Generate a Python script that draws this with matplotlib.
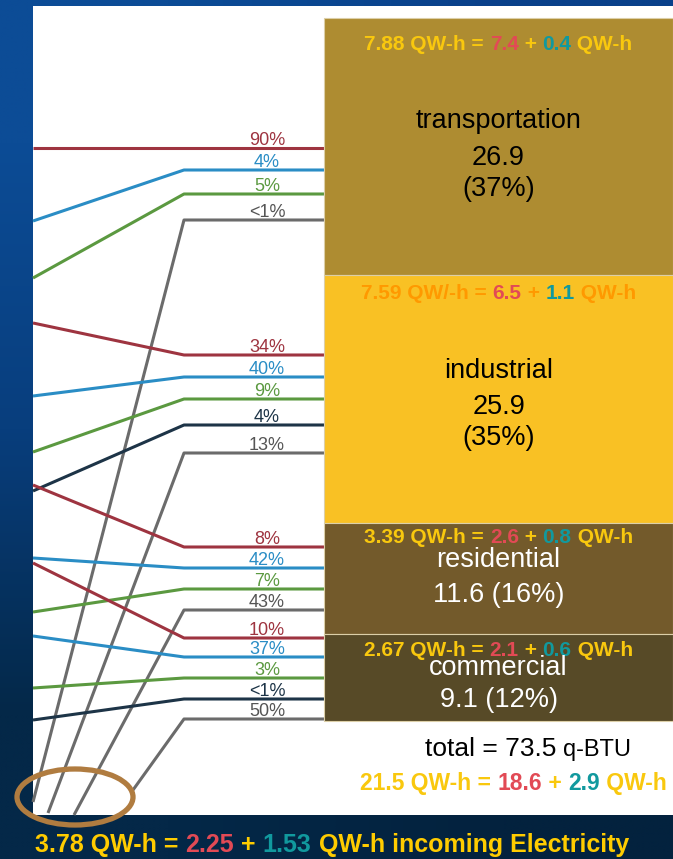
import matplotlib
matplotlib.use('Agg')
import matplotlib.pyplot as plt
from matplotlib.patches import Ellipse, Rectangle
import numpy as np

plt.rcParams['font.family'] = ['Liberation Sans', 'DejaVu Sans']

# sector totals (quads) and their shares
sectors = ['transportation', 'industrial', 'residential', 'commercial']
quads = [26.9, 25.9, 11.6, 9.1]
shares = ['37%', '35%', '16%', '12%']
total_quads = '73.5'

# electricity used by each sector: total = part a + part b (QW-h)
elec_total = ['7.88', '7.59', '3.39', '2.67']
elec_a = ['7.4', '6.5', '2.6', '2.1']
elec_b = ['0.4', '1.1', '0.8', '0.6']
elec_sum = ['21.5', '18.6', '2.9']
elec_incoming = ['3.78', '2.25', '1.53']

# fuel flows into each sector, top to bottom
fuel_kinds = [
    ['oil', 'gas', 'renew', 'elec'],
    ['oil', 'gas', 'renew', 'coal', 'elec'],
    ['oil', 'gas', 'renew', 'elec'],
    ['oil', 'gas', 'renew', 'coal', 'elec'],
]
fuel_labels = [
    ['90%', '4%', '5%', '<1%'],
    ['34%', '40%', '9%', '4%', '13%'],
    ['8%', '42%', '7%', '43%'],
    ['10%', '37%', '3%', '<1%', '50%'],
]
# y where a flow enters on the left, and y where it reaches the sector
flow_in = [
    [148, 221, 278, 802],
    [323, 396, 452, 491, 813],
    [485, 558, 612, 815],
    [563, 636, 688, 720, 790],
]
flow_out = [
    [148, 170, 194, 220],
    [355, 377, 399, 425, 453],
    [547, 568, 589, 610],
    [638, 657, 678, 699, 719],
]
# electricity flows start from the circled source at the bottom
elec_src_x = [33, 48, 74, 133]

line_colors = {'oil': '#9E3440', 'gas': '#2A8DC5', 'renew': '#5B9940',
               'coal': '#1D3447', 'elec': '#6B6B6B'}
label_colors = {'oil': '#9E3440', 'gas': '#2A8DC5', 'renew': '#5B9940',
                'coal': '#1D3447', 'elec': '#555555'}
box_colors = ['#AE8C31', '#F9C124', '#735A2B', '#574A27']
box_text = ['black', 'black', 'white', 'white']

YEL = '#F9C80E'
ORA = '#FF9900'
RED = '#E24A55'
TEAL = '#11999E'

W, H = 673, 859
fig = plt.figure(figsize=(W / 100, H / 100), dpi=100)
ax = fig.add_axes([0, 0, 1, 1])
ax.set_xlim(0, W)
ax.set_ylim(H, 0)
ax.axis('off')

# blue backdrop
bg = np.array([[[12, 76, 150], [9, 64, 138]],
               [[8, 62, 125], [6, 50, 105]],
               [[4, 40, 72], [3, 34, 62]]]) / 255
ax.imshow(bg, extent=[0, W, H, 0], interpolation='bilinear', aspect='auto', zorder=0)
ax.add_patch(Rectangle((33, 6), W - 33, 809, facecolor='white', edgecolor='none', zorder=1))

renderer = fig.canvas.get_renderer()


def text_width(s, size, weight):
    t = ax.text(0, 0, s + '|', fontsize=size, fontweight=weight)
    b = ax.text(0, 0, '|', fontsize=size, fontweight=weight)
    w = t.get_window_extent(renderer).width - b.get_window_extent(renderer).width
    t.remove()
    b.remove()
    return w


def color_text(xc, y, parts, weight='bold'):
    widths = [text_width(s, sz, weight) for s, c, sz in parts]
    x = xc - sum(widths) / 2
    for (s, c, sz), w in zip(parts, widths):
        ax.text(x, y, s, color=c, fontsize=sz, fontweight=weight,
                ha='left', va='baseline', zorder=6)
        x += w


# sector boxes, heights proportional to quads
box_left, box_right = 324, W
top, bottom = 18, 721
scale = (bottom - top) / sum(quads)
heights = [q * scale for q in quads]
starts = top + np.concatenate([[0], np.cumsum(heights)[:-1]])
ax.bar(box_left, heights, bottom=starts, width=box_right - box_left, align='edge',
       color=box_colors, edgecolor='#DCCFA8', linewidth=0.8, zorder=3)

# flows
kink_x = 184
for kinds, labs, yin, yout, ex in zip(fuel_kinds, fuel_labels, flow_in, flow_out, elec_src_x):
    for k, lab, y0, y1 in zip(kinds, labs, yin, yout):
        x0 = ex if k == 'elec' else 33
        ax.plot([x0, kink_x, box_left], [y0, y1, y1], color=line_colors[k],
                lw=2.2, solid_capstyle='butt', zorder=2)
        ax.text(267, y1 - 3, lab, color=label_colors[k], fontsize=13,
                ha='center', va='baseline', zorder=4)

ax.add_patch(Ellipse((75, 797), 116, 56, fill=False, edgecolor='#B07C40', lw=3.8, zorder=5))

# box texts
xc = (box_left + box_right) / 2
head_base = [50, 299, 543, 656]
heads = [
    [(elec_total[0] + ' QW-h = ', YEL, 15), (elec_a[0], RED, 15), (' + ', YEL, 15),
     (elec_b[0], TEAL, 15), (' QW-h', YEL, 15)],
    [(elec_total[1] + ' QW/-h = ', ORA, 15), (elec_a[1], RED, 15), (' + ', ORA, 15),
     (elec_b[1], TEAL, 15), (' QW-h', ORA, 15)],
    [(elec_total[2] + ' QW-h = ', YEL, 15), (elec_a[2], RED, 15), (' + ', YEL, 15),
     (elec_b[2], TEAL, 15), (' QW-h', YEL, 15)],
    [(elec_total[3] + ' QW-h = ', YEL, 15), (elec_a[3], RED, 15), (' + ', YEL, 15),
     (elec_b[3], TEAL, 15), (' QW-h', YEL, 15)],
]
for parts, yb in zip(heads, head_base):
    color_text(xc, yb, parts)

body_lines = [
    [sectors[0], f'{quads[0]}', f'({shares[0]})'],
    [sectors[1], f'{quads[1]}', f'({shares[1]})'],
    [sectors[2], f'{quads[2]} ({shares[2]})'],
    [sectors[3], f'{quads[3]} ({shares[3]})'],
]
body_base = [[128, 165, 196], [378, 414, 445], [567, 602], [675, 707]]
for lines, bases, tc in zip(body_lines, body_base, box_text):
    for s, yb in zip(lines, bases):
        ax.text(xc, yb, s, color=tc, fontsize=19.5, ha='center', va='baseline', zorder=6)

# totals
color_text(528, 756, [('total = ' + total_quads + ' ', 'black', 19), ('q-BTU', 'black', 17)],
           weight='normal')
color_text(513, 790, [(elec_sum[0] + ' QW-h = ', YEL, 16.5), (elec_sum[1], RED, 16.5),
                      (' + ', YEL, 16.5), (elec_sum[2], TEAL, 16.5), (' QW-h', YEL, 16.5)])
color_text(332, 852, [(elec_incoming[0] + ' QW-h = ', '#FFCC00', 18), (elec_incoming[1], RED, 18),
                      (' + ', '#FFCC00', 18), (elec_incoming[2], TEAL, 18),
                      (' QW-h incoming Electricity', '#FFCC00', 18)])

fig.savefig('out.png', dpi=100)
